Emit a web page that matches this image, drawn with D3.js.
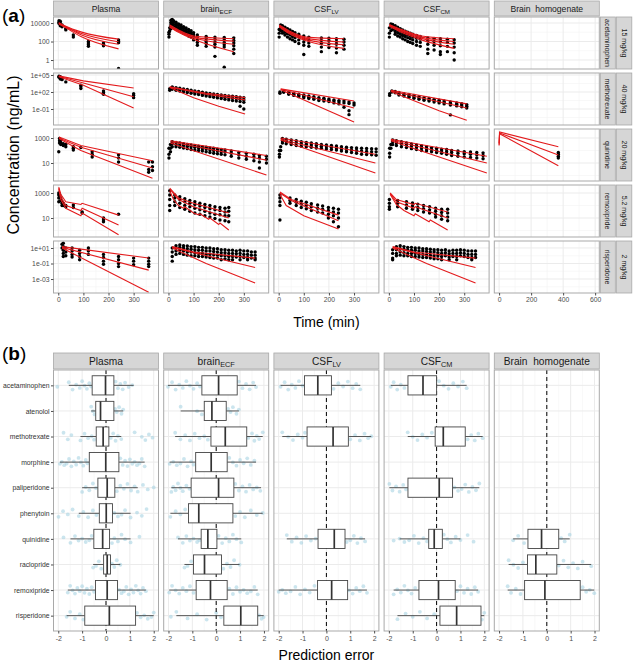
<!DOCTYPE html>
<html><head><meta charset="utf-8">
<script src="https://cdn.jsdelivr.net/npm/d3@7"></script>
<style>body{margin:0;background:#fff}svg{display:block}text{font-family:"Liberation Sans",Arial,sans-serif}</style>
</head><body><svg id="c" width="633" height="664"></svg>
<script>
// ===================== DATA: panel (a) =====================
const compartments = ["Plasma", "brain|ECF", "CSF|LV", "CSF|CM", "Brain  homogenate"];
const drugsA = ["acetaminophen", "methotrexate", "quinidine", "remoxipride", "risperidone"];
const dosesA = ["15 mg/kg", "40 mg/kg", "20 mg/kg", "5.2 mg/kg", "2 mg/kg"];
const timeTicks = [0, 100, 200, 300];
const timeTicksBH = [0, 200, 400, 600];
const timeLimits = [-19, 399];
const timeLimitsBH = [-30, 626];
const concTicks = [[1, 100, 10000], [0.1, 100, 100000], [10, 1000], [10, 1000], [0.001, 0.1, 10]];
const concTickLabels = [["1", "100", "10000"], ["1e-01", "1e+02", "1e+05"], ["10", "1000"], ["10", "1000"], ["1e-03", "1e-01", "1e+01"]];
const concLimits = [[0.107, 44700], [0.00015, 224000], [0.363, 5250], [0.302, 4365], [0.0000158, 79.4]];

// acetaminophen
const obsAcetPlasma = [[3,[18000,12000,9000]],[8,[16000,10000,7000,5000]],[15,[6000,4000]],[30,[2500,1800]],[60,[500,300]],[120,[100,70,45,30]],[180,[70,50,35]],[240,[150,100,75,0.12]]];
const predAcetPlasma = [[[2,11000],[30,4500],[90,1100],[240,180]],[[2,10000],[30,4000],[90,800],[240,95]],[[2,9000],[30,3500],[90,550],[240,50]],[[2,8000],[30,3000],[90,350],[240,16]]];
const obsAcetECF = [[2,[1000,600,300]],[5,[3000,1500]],[10,[20000,12000,8000,5000,2500]],[15,[25000,15000,9000,5000]],[20,[18000,12000,7000,4000]],[30,[12000,8000,5000,3000]],[40,[8000,5000,3000,2000]],[50,[6000,3500,2000,1200]],[60,[4000,2500,1500,800]],[70,[3000,1800,1000,600]],[80,[2000,1200,700,400]],[90,[1500,900,500,300]],[100,[900,500,300,150]],[115,[500,300,150,80,40]],[150,[350,200,100,60,30]],[185,[300,180,90,50,25,2.5]],[222,[280,150,80,45,25,0.17]],[260,[250,130,70,35,15,5]]];
const predAcetECF = [[[5,6000],[40,1800],[100,400],[260,200]],[[5,5000],[40,1500],[100,300],[260,110]],[[5,4000],[40,1200],[100,250],[260,50]],[[5,3500],[40,1000],[100,180],[260,8]]];
const obsAcetLV = [[2,[2000,800,300]],[8,[6000,3000,1500]],[15,[5000,3000,1500,800]],[25,[3500,2000,1000,500]],[35,[2500,1300,700,300]],[45,[1800,1000,500,200]],[55,[1200,700,350,150]],[65,[900,500,250,100]],[80,[600,350,150,60]],[100,[400,200,90,40,4]],[120,[300,150,70,30]],[170,[250,130,60,25,8]],[200,[230,120,55,22]],[230,[200,100,50,20,6]],[260,[180,90,40,15]]];
const predAcetLV = [[[2,6000],[40,1500],[110,300],[260,200]],[[2,5000],[40,1200],[110,220],[260,90]],[[2,4500],[40,1000],[110,160],[260,45]],[[2,4000],[40,800],[110,120],[260,18]]];
const obsAcetCM = [[2,[3000,800,300]],[8,[8000,4000,1500]],[15,[7000,4000,2000]],[25,[5000,2500,1200,600]],[35,[3500,1800,900,400]],[45,[2500,1300,600,300]],[55,[1800,900,450,200]],[65,[1300,700,350,150]],[75,[1000,500,250,100]],[85,[800,400,200,80]],[95,[600,300,150,60]],[110,[450,220,100,40]],[125,[350,180,80,30]],[155,[250,120,50,15,5]],[180,[220,100,40,12]],[205,[200,90,35,8,4]],[233,[180,80,30,8]],[260,[160,70,25,6,1]]];
const predAcetCM = [[[2,7000],[50,2000],[130,400],[260,200]],[[2,6000],[50,1600],[130,300],[260,100]],[[2,5000],[50,1300],[130,220],[260,50]],[[2,4500],[50,1000],[130,150],[260,18]]];
// methotrexate
const obsMtxPlasma = [[3,[60000,40000]],[8,[50000,30000,20000]],[15,[25000,15000]],[30,[6000]],[90,[1500,800,400]],[180,[150,80,40]],[300,[50,25,10]]];
const predMtxPlasma = [[[2,70000],[100,9000],[300,500]],[[2,60000],[100,4000],[300,15]],[[2,50000],[100,1500],[300,0.15]]];
const obsMtxECF = [[5,[400,200]],[15,[800,500,300]],[30,[600,350,200]],[45,[450,280,150]],[60,[350,200,110]],[75,[280,160,80]],[90,[200,120,60]],[105,[150,90,45]],[120,[120,70,35]],[135,[90,50,25]],[150,[70,40,20]],[165,[55,30,15]],[180,[45,25,12]],[195,[35,20,9]],[210,[30,15,7]],[225,[25,12,5]],[240,[20,10,4]],[255,[18,8,3]],[270,[15,7,2.5]],[285,[12,5,2,0.3]],[300,[10,4,1.5,0.1]]];
const predMtxECF = [[[5,800],[150,60],[305,10]],[[5,700],[150,40],[305,4]],[[5,600],[100,10],[200,0.3],[305,0.013]]];
const obsMtxLV = [[5,[100,60]],[20,[150,90]],[40,[90,60,40]],[60,[60,40,25]],[80,[40,25,15]],[100,[30,18,10]],[120,[20,12,7]],[140,[15,9,5]],[160,[10,6,3]],[180,[8,5,2.5]],[200,[6,3.5,2]],[220,[4,2.5,1.2]],[240,[3,1.8,0.8]],[260,[2.5,1.2,0.2]],[280,[1.8,0.9,0.05,0.01]],[300,[1.2,0.5]]];
const predMtxLV = [[[8,350],[300,2.5]],[[8,300],[300,0.15]],[[8,250],[300,0.0005]]];
const obsMtxCM = [[3,[50,25]],[12,[150,100]],[25,[120,70]],[40,[80,50,30]],[60,[50,30,20]],[80,[35,20,12]],[100,[25,14,8]],[120,[15,9,5]],[140,[10,6,3.5]],[160,[7,4,2.5]],[180,[5,3,1.7]],[200,[3.5,2,1.2]],[220,[2.5,1.4,0.8]],[245,[1.8,1,0.5,0.009]],[270,[1.2,0.7,0.35]],[290,[0.9,0.5,0.25]],[310,[0.6,0.3,0.15]]];
const predMtxCM = [[[8,200],[310,0.8]],[[8,150],[310,0.15]],[[8,120],[200,0.05],[310,0.001]]];
// quinidine
const obsQuiPlasma = [[2,[80]],[5,[900,600,400]],[10,[700,450,300]],[20,[350,250]],[30,[300,200]],[60,[200,150,110]],[90,[170]],[135,[80,50,30]],[240,[45,25,12]],[360,[12,3,1.8]],[375,[12,5,2.5]]];
const predQuiPlasma = [[[3,1200],[90,250],[375,15]],[[3,1000],[90,180],[375,4]],[[3,900],[90,100],[375,0.6]]];
const obsQuiECF = [[2,[150,50,25]],[8,[300,150,80]],[15,[500,350,200]],[30,[450,300,200]],[45,[400,280,180]],[60,[350,250,160]],[75,[300,220,140]],[90,[280,200,120]],[105,[250,180,110]],[120,[220,160,100]],[135,[200,140,90]],[150,[180,130,80]],[165,[160,110,70]],[180,[150,100,60]],[195,[130,90,55]],[210,[120,80,50]],[225,[110,75,45]],[250,[90,60,35]],[280,[70,45,25]],[310,[60,35,20]],[340,[50,30,15]],[362,[40,25,12,4]],[390,[35,20,10]]];
const predQuiECF = [[[8,600],[390,40]],[[8,500],[390,17]],[[8,400],[390,1.1]]];
const obsQuiLV = [[3,[100,50,30]],[8,[200,100]],[15,[900,600,400]],[30,[800,550,350]],[50,[700,450,300]],[70,[600,400,250]],[90,[500,350,220]],[110,[450,320,200]],[130,[400,280,180]],[150,[350,250,160]],[170,[300,220,150]],[190,[280,200,130]],[210,[250,180,120]],[230,[230,160,110]],[250,[200,140,90]],[270,[180,120,80]],[290,[170,110,70]],[310,[160,100,60]],[330,[150,90,50]],[350,[145,85,48]],[370,[140,80,45]],[388,[135,78,42]]];
const predQuiLV = [[[8,1000],[385,50]],[[8,800],[385,10]],[[8,700],[385,1.6]]];
const obsQuiCM = [[3,[150,60,30]],[8,[300,150]],[15,[700,500,300]],[30,[600,400,250]],[50,[500,330,200]],[70,[400,270,170]],[90,[330,230,140]],[110,[280,190,120]],[130,[240,160,100]],[150,[200,140,90]],[170,[170,120,80]],[190,[150,100,70]],[210,[130,90,60]],[230,[120,80,50]],[250,[100,70,40]],[275,[90,60,35]],[300,[80,55,30]],[325,[75,50,28]],[350,[70,45,25]],[375,[65,40,22]]];
const predQuiCM = [[[8,800],[390,35]],[[8,700],[390,10]],[[8,600],[390,1.6]]];
const obsQuiBH = [[370,[70,50,35,25]]];
const predQuiBH = [[[0,400],[3,3000],[370,200]],[[0,300],[3,2500],[370,44]],[[0,250],[3,2200],[370,6]]];
// remoxipride
const obsRemPlasma = [[2,[1000,700,400,200]],[5,[800,500]],[10,[400,250]],[15,[200,150,100]],[20,[150,100]],[30,[100,80]],[60,[110,70]],[95,[30,25]],[180,[10,7,5]],[240,[20]]];
const predRemPlasma = [[[2,3000],[10,800],[30,200],[90,120],[95,150],[240,17]],[[2,2500],[10,500],[30,100],[90,40],[95,60],[240,2.8]],[[2,2000],[10,300],[30,60],[90,15],[95,25],[240,0.45]]];
const obsRemECF = [[5,[1500,700,300,100,40]],[25,[700,400,200,100]],[45,[500,300,150,70]],[65,[350,200,100,50]],[85,[250,150,80,35]],[105,[200,120,60,25]],[125,[150,90,45,20]],[145,[120,70,35,15]],[165,[100,55,25,12]],[185,[80,45,20,9]],[205,[70,40,18,7]],[225,[60,30,15,6]],[240,[70,35,15,5]]];
const predRemECF = [[[5,2500],[40,400],[100,150],[240,25]],[[5,2000],[40,300],[100,80],[240,10]],[[5,1500],[20,300],[40,100],[60,60],[65,80],[100,25],[120,18],[125,22],[160,8],[165,10],[200,3],[205,4],[240,1.1]]];
const obsRemLV = [[5,[700,400,200,100,7]],[45,[400,250,150]],[70,[300,180,100]],[90,[220,130,70]],[110,[180,100,55]],[130,[140,80,40]],[155,[110,60,30]],[175,[90,50,25]],[198,[70,40,20,10]],[218,[60,30,15,5]],[238,[50,25,10,2]]];
const predRemLV = [[[5,1200],[50,300],[238,17]],[[5,1000],[50,250],[238,6]],[[5,800],[30,100],[100,15],[238,1.3]]];
const obsRemCM = [[2,[300,150,80,50]],[35,[250,150,80]],[70,[200,110,60]],[94,[160,90,50]],[115,[130,70,40]],[138,[100,55,30]],[162,[80,45,25]],[186,[60,35,20,12]],[210,[50,28,15,8]],[234,[50,25,12,6]]];
const predRemCM = [[[5,1000],[30,300],[100,120],[105,150],[234,30]],[[5,900],[30,200],[100,60],[105,80],[234,10]],[[5,800],[30,120],[60,40],[100,15],[105,22],[160,5],[165,7],[234,1.1]]];
// risperidone
const obsRisPlasma = [[15,[30,10]],[20,[40,15,5,2,0.8]],[30,[10,3,1]],[55,[10,4,1.5,0.7]],[85,[5,2,0.8,0.3]],[120,[10,4,1.5]],[180,[1.5,0.6,0.2,0.08]],[240,[0.8,0.3,0.1,0.04]],[300,[0.5,0.2,0.07]],[360,[0.5,0.2,0.08,0.04]]];
const predRisPlasma = [[[15,15],[360,0.5]],[[15,12],[360,0.014]],[[15,10],[360,0.00002]]];
const obsRisECF = [[15,[10,3,0.8,0.2]],[30,[20,10,4,1.5]],[45,[25,12,5,2]],[60,[20,10,4,1.5]],[75,[18,8,3,1.2]],[90,[15,7,3,1]],[105,[15,6,2.5,1]],[120,[12,5,2,0.8]],[135,[12,5,2,0.8]],[150,[10,4,1.5,0.7]],[165,[10,4,1.5,0.6]],[180,[8,3.5,1.3,0.5]],[195,[8,3,1.2,0.5]],[210,[6,2.5,1,0.3]],[225,[6,2.5,1,0.4]],[240,[5,2,0.8,0.3]],[255,[5,2,0.8,0.3]],[270,[4,1.8,0.7]],[285,[5,2,0.8,0.3]],[300,[4,1.5,0.6]],[315,[4,1.5,0.6,0.3]],[330,[3,1.2,0.5]],[345,[3,1.2,0.5,0.3]]];
const predRisECF = [[[15,15],[100,3],[345,0.5]],[[15,12],[345,0.03]],[[15,10],[150,0.1],[345,0.0003]]];
const obsRisCM = [[15,[6,2,0.5,0.3]],[30,[15,6,2,1]],[45,[20,8,3,1.2]],[60,[15,7,2.5,1]],[75,[12,6,2,1]],[90,[12,5,2,0.8]],[105,[10,5,2,0.8]],[120,[10,4,1.5,0.7]],[135,[8,4,1.5,0.6]],[150,[8,3.5,1.3,0.6]],[165,[7,3,1.2,0.5]],[180,[6,3,1,0.4]],[195,[6,2.5,1,0.4]],[210,[5,2,0.8,0.3]],[225,[6,2.5,1]],[240,[4,1.8,0.7,0.3]],[255,[5,2,0.8]],[270,[5,2,0.8,0.3]],[285,[6,2.5,1]],[300,[5,2,0.8]],[315,[4,1.5,0.6]],[330,[4,1.5,0.6,0.3]],[345,[4,1.5,0.6]]];
const predRisCM = [[[15,15],[100,3],[345,0.5]],[[15,12],[345,0.03]],[[15,10],[150,0.1],[345,0.0003]]];

const panelsA = [
  [0,0,obsAcetPlasma,predAcetPlasma],[0,1,obsAcetECF,predAcetECF],[0,2,obsAcetLV,predAcetLV],[0,3,obsAcetCM,predAcetCM],
  [1,0,obsMtxPlasma,predMtxPlasma],[1,1,obsMtxECF,predMtxECF],[1,2,obsMtxLV,predMtxLV],[1,3,obsMtxCM,predMtxCM],
  [2,0,obsQuiPlasma,predQuiPlasma],[2,1,obsQuiECF,predQuiECF],[2,2,obsQuiLV,predQuiLV],[2,3,obsQuiCM,predQuiCM],[2,4,obsQuiBH,predQuiBH],
  [3,0,obsRemPlasma,predRemPlasma],[3,1,obsRemECF,predRemECF],[3,2,obsRemLV,predRemLV],[3,3,obsRemCM,predRemCM],
  [4,0,obsRisPlasma,predRisPlasma],[4,1,obsRisECF,predRisECF],[4,3,obsRisCM,predRisCM]
];

// ===================== DATA: panel (b) =====================
const drugsB = ["acetaminophen","atenolol","methotrexate","morphine","paliperidone","phenytoin","quinidine","raclopride","remoxipride","risperidone"];
const peTicks = [-2, -1, 0, 1, 2];
const peLimits = [-2.2, 2.2];
// [drug, whiskerLow, q1, median, q3, whiskerHigh]
const boxesPlasma = [["acetaminophen",-1.56,-0.58,-0.02,0.33,1.16],["atenolol",-0.62,-0.43,-0.23,0.33,0.72],["methotrexate",-1.07,-0.41,-0.12,0.12,0.64],["morphine",-1.93,-0.70,-0.01,0.54,1.62],["paliperidone",-1.0,-0.34,0.05,0.37,1.33],["phenytoin",-1.14,-0.28,0.01,0.27,1.03],["quinidine",-1.49,-0.51,-0.14,0.15,1.03],["raclopride",-0.54,-0.10,0.05,0.19,0.60],["remoxipride",-1.6,-0.44,0.05,0.48,1.67],["risperidone",-1.65,-0.89,0.14,1.24,2.0]];
const ptsPlasma = [[-2.04,-1.56,-1.4,-1.25,-1.1,-1.0,-0.9,-0.8,-0.7,-0.62,0.4,0.5,0.6,0.7,0.8,0.95,1.1],[-0.62,-0.55,-0.48,0.38,0.45,0.55,0.65,0.72],[-1.78,-1.6,-1.45,-1.07,-0.9,-0.75,-0.6,-0.5,0.2,0.3,0.4,0.5,0.64,1.2,1.5,1.65,1.8,1.95],[-1.93,-1.85,-1.75,-1.65,-1.55,-1.45,-1.35,-1.25,-1.15,-1.05,-0.95,-0.85,-0.78,0.6,0.7,0.8,0.9,1.0,1.1,1.2,1.3,1.4,1.5,1.62],[-1.0,-0.85,-0.7,-0.55,-0.42,0.45,0.6,0.75,0.9,1.05,1.2,1.33,1.55,1.75,2.0],[-1.99,-1.8,-1.6,-1.4,-1.14,-0.95,-0.75,-0.55,-0.4,0.35,0.5,0.65,0.8,1.03,1.3,1.5,1.7],[-1.78,-1.49,-1.3,-1.15,-1.0,-0.85,-0.7,-0.6,0.25,0.35,0.5,0.65,0.8,1.03,1.4],[-0.54,-0.42,-0.3,-0.2,0.25,0.35,0.45,0.6],[-1.6,-1.5,-1.4,-1.3,-1.2,-1.1,-1.0,-0.9,-0.8,-0.7,-0.6,-0.5,0.55,0.65,0.75,0.85,0.95,1.05,1.15,1.25,1.35,1.45,1.55,1.67],[-1.65,-1.5,-1.3,-1.1,-0.95,1.3,1.45,1.6,1.75,1.9,2.0]];
const boxesECF = [["acetaminophen",-2.02,-0.60,0.10,0.88,1.67],["atenolol",-1.49,-0.50,-0.18,0.42,0.95],["methotrexate",-1.72,-0.22,0.38,1.28,1.95],["morphine",-1.95,-0.86,-0.21,0.46,1.67],["paliperidone",-1.88,-1.05,0.10,0.74,1.88],["phenytoin",-1.92,-1.16,-0.73,0.70,1.95],["quinidine",-1.6,-0.63,-0.35,0.03,1.05],["raclopride",-1.33,-0.95,-0.49,0.22,0.98],["remoxipride",-1.97,-0.84,-0.24,0.46,1.74],["risperidone",-1.67,0.32,1.03,1.74,1.99]];
const ptsECF = [[-2.02,-1.85,-1.7,-1.55,-1.4,-1.25,-1.1,-0.95,-0.8,-0.68,0.95,1.1,1.25,1.4,1.55,1.67],[-1.49,-0.8,-0.6,0.5,0.6,0.7,0.85,0.95],[-1.72,-1.5,-1.3,-1.1,-0.9,-0.7,-0.5,-0.35,1.35,1.5,1.6,1.7,1.8,1.95],[-1.95,-1.8,-1.65,-1.5,-1.35,-1.2,-1.05,-0.95,0.55,0.7,0.85,1.0,1.15,1.3,1.45,1.6],[-1.88,-1.8,-1.7,-1.6,-1.5,-1.4,-1.25,-1.12,0.8,0.95,1.1,1.25,1.4,1.55,1.7,1.85],[-1.92,-1.7,-1.5,-1.3,0.8,1.0,1.2,1.45,1.7,1.95],[-1.6,-1.4,-1.25,-1.1,-0.95,-0.8,-0.7,0.1,0.25,0.4,0.55,0.7,0.85,1.05],[-1.33,-1.2,-1.05,0.3,0.45,0.6,0.75,0.98],[-1.97,-1.85,-1.7,-1.55,-1.4,-1.25,-1.1,-0.95,0.55,0.7,0.85,1.0,1.15,1.3,1.45,1.6,1.74],[-1.9,-1.67,-1.2,-0.8,-0.4,0.0,0.2,1.8,1.9,1.99]];
const boxesLV = [["acetaminophen",-1.92,-0.92,-0.36,0.21,1.42],["methotrexate",-1.85,-0.81,0.28,0.92,1.88],["quinidine",-1.66,-0.35,0.33,0.78,1.62],["remoxipride",-2.0,-0.37,0.22,0.89,1.7]];
const ptsLV = [[-1.92,-1.75,-1.6,-1.45,-1.3,-1.15,-1.0,0.3,0.5,0.7,0.9,1.1,1.25,1.42],[-1.85,-1.6,-1.4,-1.2,-1.0,-0.9,1.0,1.2,1.4,1.6,1.75,1.88],[-1.66,-1.45,-1.25,-1.05,-0.85,-0.65,-0.45,0.85,1.0,1.15,1.3,1.45,1.62],[-2.0,-1.85,-1.7,-1.5,-1.3,-1.1,-0.9,-0.7,-0.5,0.95,1.1,1.25,1.4,1.55,1.7]];
const boxesCM = [["acetaminophen",-1.92,-1.2,-0.57,0.0,1.26],["methotrexate",-1.21,-0.06,0.28,1.20,1.93],["paliperidone",-1.98,-1.2,0.11,0.67,1.79],["quinidine",-1.55,-0.33,-0.1,0.24,1.0],["remoxipride",-1.8,-0.74,0.08,0.78,1.74],["risperidone",-1.64,0.14,0.84,1.86,2.0]];
const ptsCM = [[-1.92,-1.8,-1.65,-1.5,-1.35,0.1,0.3,0.5,0.7,0.9,1.1,1.26],[-1.21,-1.0,-0.8,-0.6,-0.4,-0.2,1.3,1.45,1.6,1.75,1.93],[-1.98,-1.85,-1.7,-1.55,-1.4,-1.28,0.75,0.9,1.05,1.2,1.35,1.5,1.65,1.79],[-1.8,-1.55,-1.35,-1.15,-0.95,-0.75,-0.55,-0.4,0.3,0.45,0.6,0.8,1.0,1.3,1.55],[-1.8,-1.65,-1.5,-1.35,-1.2,-1.05,-0.9,0.85,1.0,1.15,1.3,1.45,1.6,1.74],[-1.64,-1.3,-1.0,-0.7,-0.4,-0.1,1.9,2.0]];
const boxesBH = [["quinidine",-1.41,-0.79,-0.22,0.5,0.96],["raclopride",-1.6,-0.81,-0.46,0.42,1.86],["remoxipride",-1.64,-0.93,-0.08,1.4,1.99]];
const ptsBH = [[-1.41,-1.2,-0.95,0.6,0.75,0.96],[-1.6,-1.4,-1.2,-1.0,0.5,0.7,0.9,1.1,1.3,1.5,1.86],[-1.64,-1.5,-1.3,-1.1,1.5,1.65,1.8,1.99]];
const panelsB = [[boxesPlasma, ptsPlasma],[boxesECF, ptsECF],[boxesLV, ptsLV],[boxesCM, ptsCM],[boxesBH, ptsBH]];

// ===================== LAYOUT / STYLE =====================
const colX0 = 53.5, colW = 105, colStep = 110.2;
const aTop = 17, aRowH = 52, aRowStep = 56, aStripY = 1, aStripH = 15;
const bStripY = 353, bStripH = 16, bTop = 370, bBottom = 631;
const stripFill = "#d6d6d6", borderCol = "#a9a9a9", gridMaj = "#ebebeb", gridMin = "#f4f4f4";
const txtCol = "#1a1a1a", tickCol = "#4d4d4d", redCol = "#e31a1c";
const jitter = [0.10,-0.22,0.30,-0.05,0.18,-0.30,0.02,0.25,-0.15,0.08,-0.27,0.20,-0.10,0.28,-0.20,0.12,-0.02,0.22];
const fontFam = '"Liberation Sans",Arial,sans-serif';

const svg = d3.select("#c");
const defs = svg.append("defs");

function stripLabel(g, x, y, label, size) {
  const parts = label.split("|");
  const t = g.append("text").attr("x", x).attr("y", y).attr("text-anchor", "middle")
    .attr("font-size", size).attr("fill", txtCol).style("white-space", "pre");
  t.append("tspan").text(parts[0]);
  if (parts[1]) t.append("tspan").attr("font-size", size * 0.72).attr("dy", size * 0.22).text(parts[1]);
}
function styleAxis(a, size, col) {
  a.select(".domain").remove();
  a.selectAll("line").attr("stroke", tickCol);
  a.selectAll("text").attr("font-size", size).attr("fill", col).attr("font-family", fontFam);
}

// ---------- panel (a) ----------
const gA = svg.append("g");
gA.append("text").attr("x", 2).attr("y", 22).attr("font-size", 19).attr("fill", "#000")
  .html('(<tspan font-weight="bold">a</tspan>)');

for (let c = 0; c < 5; c++) {
  const x0 = colX0 + c * colStep;
  gA.append("rect").attr("x", x0).attr("y", aStripY).attr("width", colW).attr("height", aStripH)
    .attr("fill", stripFill).attr("stroke", borderCol).attr("stroke-width", 0.8);
  stripLabel(gA, x0 + colW / 2, aStripY + 11, compartments[c], 8.6);
}

for (let r = 0; r < 5; r++) {
  const y0 = aTop + r * aRowStep;
  const yS = d3.scaleLog().domain(concLimits[r]).range([y0 + aRowH, y0]);
  const lt = Math.log10(concLimits[r][0]), ht = Math.log10(concLimits[r][1]);
  const majL = concTicks[r].map(Math.log10);
  const step = majL[1] - majL[0];
  const minors = [];
  for (let v = majL[0] - step / 2; v < ht; v += step) if (v > lt) minors.push(Math.pow(10, v));
  for (let c = 0; c < 5; c++) {
    const x0 = colX0 + c * colStep;
    const bh = c === 4;
    const xS = d3.scaleLinear().domain(bh ? timeLimitsBH : timeLimits).range([x0, x0 + colW]);
    const tk = bh ? timeTicksBH : timeTicks;
    const xmin = bh ? [100, 300, 500] : [50, 150, 250, 350];
    const g = gA.append("g");
    g.append("rect").attr("x", x0).attr("y", y0).attr("width", colW).attr("height", aRowH).attr("fill", "#fff");
    g.selectAll(null).data(xmin).join("line").attr("x1", d => xS(d)).attr("x2", d => xS(d))
      .attr("y1", y0).attr("y2", y0 + aRowH).attr("stroke", gridMin).attr("stroke-width", 0.6);
    g.selectAll(null).data(minors).join("line").attr("y1", d => yS(d)).attr("y2", d => yS(d))
      .attr("x1", x0).attr("x2", x0 + colW).attr("stroke", gridMin).attr("stroke-width", 0.6);
    g.selectAll(null).data(tk).join("line").attr("x1", d => xS(d)).attr("x2", d => xS(d))
      .attr("y1", y0).attr("y2", y0 + aRowH).attr("stroke", gridMaj).attr("stroke-width", 1);
    g.selectAll(null).data(concTicks[r]).join("line").attr("y1", d => yS(d)).attr("y2", d => yS(d))
      .attr("x1", x0).attr("x2", x0 + colW).attr("stroke", gridMaj).attr("stroke-width", 1);

    const cid = `clipA${r}${c}`;
    defs.append("clipPath").attr("id", cid).append("rect").attr("x", x0).attr("y", y0).attr("width", colW).attr("height", aRowH);
    const p = panelsA.find(q => q[0] === r && q[1] === c);
    if (p) {
      const gc = g.append("g").attr("clip-path", `url(#${cid})`);
      const pts = p[2].flatMap(([t, vs]) => vs.map(v => [t, v]));
      gc.selectAll(null).data(pts).join("circle").attr("cx", d => xS(d[0])).attr("cy", d => yS(d[1]))
        .attr("r", 1.7).attr("fill", "#000");
      const line = d3.line().x(d => xS(d[0])).y(d => yS(d[1]))
        .curve(r === 0 ? d3.curveMonotoneX : d3.curveLinear);
      gc.selectAll(null).data(p[3]).join("path").attr("d", line).attr("fill", "none")
        .attr("stroke", redCol).attr("stroke-width", 1.1);
    }
    g.append("rect").attr("x", x0).attr("y", y0).attr("width", colW).attr("height", aRowH)
      .attr("fill", "none").attr("stroke", borderCol).attr("stroke-width", 1);

    if (c === 0) {
      const ay = gA.append("g").attr("transform", `translate(${x0},0)`)
        .call(d3.axisLeft(yS).tickValues(concTicks[r]).tickFormat((d, i) => concTickLabels[r][i]).tickSize(2.5).tickPadding(1.5));
      styleAxis(ay, 6.8, "#4d4d4d");
    }
    if (r === 4) {
      const ax = gA.append("g").attr("transform", `translate(0,${y0 + aRowH})`)
        .call(d3.axisBottom(xS).tickValues(tk).tickFormat(d => String(d)).tickSize(2.5).tickPadding(1.5));
      styleAxis(ax, 6.8, "#4d4d4d");
    }
  }
  // right strips
  const sx = colX0 + 4 * colStep + colW + 1;
  [[sx, 15, drugsA[r]], [sx + 16, 15.5, dosesA[r]]].forEach(([x, w, lab]) => {
    gA.append("rect").attr("x", x).attr("y", y0).attr("width", w).attr("height", aRowH)
      .attr("fill", stripFill).attr("stroke", borderCol).attr("stroke-width", 0.8);
    gA.append("text").attr("transform", `translate(${x + w / 2 - 2.5},${y0 + aRowH / 2}) rotate(90)`)
      .attr("text-anchor", "middle").attr("font-size", 7).attr("fill", txtCol).text(lab);
  });
}
gA.append("text").attr("x", colX0 + (4 * colStep + colW) / 2).attr("y", 327).attr("text-anchor", "middle")
  .attr("font-size", 14).attr("fill", "#000").text("Time (min)");
gA.append("text").attr("transform", `translate(19,${aTop + (4 * aRowStep + aRowH) / 2}) rotate(-90)`)
  .attr("text-anchor", "middle").attr("font-size", 16).attr("fill", "#000").text("Concentration (ng/mL)");

// ---------- panel (b) ----------
const gB = svg.append("g");
gB.append("text").attr("x", 2).attr("y", 360).attr("font-size", 19).attr("fill", "#000")
  .html('(<tspan font-weight="bold">b</tspan>)');
const yB = d3.scalePoint().domain(drugsB).range([bTop, bBottom]).padding(0.6);
const band = yB.step();
for (let c = 0; c < 5; c++) {
  const x0 = colX0 + c * colStep;
  const xS = d3.scaleLinear().domain(peLimits).range([x0, x0 + colW]);
  gB.append("rect").attr("x", x0).attr("y", bStripY).attr("width", colW).attr("height", bStripH)
    .attr("fill", stripFill).attr("stroke", borderCol).attr("stroke-width", 0.8);
  stripLabel(gB, x0 + colW / 2, bStripY + 12, compartments[c], 10.2);
  const g = gB.append("g");
  g.append("rect").attr("x", x0).attr("y", bTop).attr("width", colW).attr("height", bBottom - bTop).attr("fill", "#fff");
  g.selectAll(null).data([-1.5, -0.5, 0.5, 1.5]).join("line").attr("x1", d => xS(d)).attr("x2", d => xS(d))
    .attr("y1", bTop).attr("y2", bBottom).attr("stroke", gridMin).attr("stroke-width", 0.6);
  g.selectAll(null).data(peTicks).join("line").attr("x1", d => xS(d)).attr("x2", d => xS(d))
    .attr("y1", bTop).attr("y2", bBottom).attr("stroke", gridMaj).attr("stroke-width", 1);
  g.selectAll(null).data(drugsB).join("line").attr("y1", d => yB(d)).attr("y2", d => yB(d))
    .attr("x1", x0).attr("x2", x0 + colW).attr("stroke", gridMaj).attr("stroke-width", 1);
  const [boxes, pts] = panelsB[c];
  boxes.forEach((b, i) => {
    const yc = yB(b[0]);
    g.selectAll(null).data(pts[i]).join("circle")
      .attr("cx", d => xS(d)).attr("cy", (d, j) => yc + jitter[(j + i * 5) % jitter.length] * band * 0.55)
      .attr("r", 1.9).attr("fill", "#a9d3e3").attr("fill-opacity", 0.6);
  });
  g.append("line").attr("x1", xS(0)).attr("x2", xS(0)).attr("y1", bTop).attr("y2", bBottom)
    .attr("stroke", "#000").attr("stroke-width", 1).attr("stroke-dasharray", "4,3");
  const bh = band * 0.75;
  boxes.forEach(b => {
    const yc = yB(b[0]);
    const [, wl, q1, md, q3, wh] = b;
    g.append("line").attr("x1", xS(wl)).attr("x2", xS(q1)).attr("y1", yc).attr("y2", yc).attr("stroke", "#444").attr("stroke-width", 0.9);
    g.append("line").attr("x1", xS(q3)).attr("x2", xS(wh)).attr("y1", yc).attr("y2", yc).attr("stroke", "#444").attr("stroke-width", 0.9);
    g.append("rect").attr("x", xS(q1)).attr("y", yc - bh / 2).attr("width", xS(q3) - xS(q1)).attr("height", bh)
      .attr("fill", "#fff").attr("stroke", "#444").attr("stroke-width", 0.9);
    g.append("line").attr("x1", xS(md)).attr("x2", xS(md)).attr("y1", yc - bh / 2).attr("y2", yc + bh / 2)
      .attr("stroke", "#333").attr("stroke-width", 1.7);
  });
  g.append("rect").attr("x", x0).attr("y", bTop).attr("width", colW).attr("height", bBottom - bTop)
    .attr("fill", "none").attr("stroke", borderCol).attr("stroke-width", 1);
  const ax = gB.append("g").attr("transform", `translate(0,${bBottom})`)
    .call(d3.axisBottom(xS).tickValues(peTicks).tickFormat(d => String(d)).tickSize(2.5).tickPadding(2.5));
  styleAxis(ax, 7, "#4d4d4d");
  if (c === 0) {
    const ay = gB.append("g").attr("transform", `translate(${x0},0)`)
      .call(d3.axisLeft(yB).tickSize(2.5).tickPadding(1.5));
    styleAxis(ay, 6.8, "#333");
  }
}
gB.append("text").attr("x", colX0 + (4 * colStep + colW) / 2).attr("y", 660).attr("text-anchor", "middle")
  .attr("font-size", 14).attr("fill", "#000").text("Prediction error");
</script></body></html>
